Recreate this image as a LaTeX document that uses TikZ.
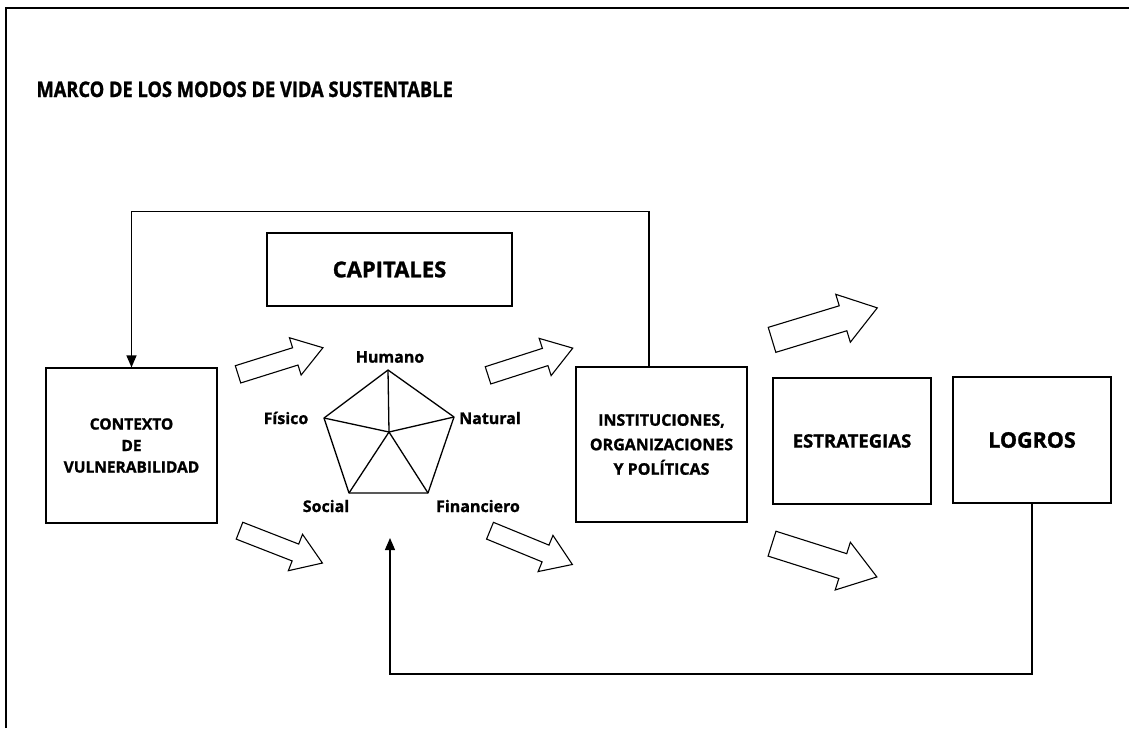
\documentclass[tikz,border=0pt]{standalone}
\usepackage{fontspec}
\setmainfont{Open Sans}[BoldFeatures={FakeBold=1.2}]
\newfontfamily\titulofont{Open Sans}[FakeStretch=0.85, BoldFeatures={FakeBold=1.2}]
\usetikzlibrary{shapes,arrows.meta}

\tikzset{
  caja/.style={draw, line width=1.2pt, align=center, inner sep=0pt, font=\fontsize{15.5}{21.5}\selectfont\bfseries},
  flechagorda/.style={single arrow, draw, line width=1.1pt, inner xsep=0pt, inner ysep=8.5pt, anchor=tail, minimum height=89pt, single arrow head extend=10.5pt, single arrow tip angle=68},
  flechagrande/.style={flechagorda, minimum height=110pt, inner ysep=12.5pt, single arrow head extend=12pt, single arrow tip angle=70},
  retorno/.style={line width=1.2pt, -{Triangle[length=12pt,width=10pt]}},
  capital/.style={font=\fontsize{16}{19}\selectfont\bfseries}
}

\begin{document}
\begin{tikzpicture}[x=1pt, y=-1pt]
                    \useasboundingbox (0,0) rectangle (1129,728);
                    \draw[line width=2.8pt] (6,728) -- (6,8) -- (1129,8);
                    \node[anchor=base west, font=\titulofont\fontsize{21.5}{25}\selectfont\bfseries] (titulo) at (33,97) {MARCO DE LOS MODOS DE VIDA SUSTENTABLE};
                    \node[caja, minimum width=171pt, minimum height=155pt] (contexto) at (131.5,445.5) {CONTEXTO\\DE\\VULNERABILIDAD};
                    \node[caja, minimum width=245pt, minimum height=73pt, font=\fontsize{22}{26}\selectfont\bfseries] (capitales) at (389.5,269.5) {CAPITALES};
                    \node[caja, minimum width=171pt, minimum height=155pt, font=\fontsize{16}{24.5}\selectfont\bfseries] (inst) at (661.5,444.5) {INSTITUCIONES,\\ORGANIZACIONES\\Y POLÍTICAS};
                    \node[caja, minimum width=158pt, minimum height=126pt, font=\fontsize{18.5}{22}\selectfont\bfseries] (estrategias) at (852,441) {ESTRATEGIAS};
                    \node[caja, minimum width=158pt, minimum height=126pt, font=\fontsize{21.5}{25}\selectfont\bfseries] (logros) at (1032,440) {LOGROS};
                    % pentagono de capitales
                    \coordinate (hum) at (388,370);
                    \coordinate (fis) at (324,418);
                    \coordinate (nat) at (454,417);
                    \coordinate (soc) at (349,493);
                    \coordinate (fin) at (428,493);
                    \coordinate (centro) at (389,432);
                    \draw[line width=1.3pt, line join=round] (hum) -- (nat) -- (fin) -- (soc) -- (fis) -- cycle;
                    \foreach \v in {hum,fis,nat,soc,fin}
                        \draw[line width=1.3pt] (centro) -- (\v);
                    \node[capital] (lhum) at (390,357) {Humano};
                    \node[capital] (lfis) at (286,418) {Físico};
                    \node[capital] (lnat) at (490,418) {Natural};
                    \node[capital] (lsoc) at (326,506) {Social};
                    \node[capital] (lfin) at (478,506) {Financiero};
                    % flechas anchas
                    \node[flechagorda, rotate=17.4] (f1) at (237.5,374.5) {};
                    \node[flechagorda, rotate=17.8] (f2) at (487.5,375.5) {};
                    \node[flechagorda, rotate=-21.3] (f3) at (239,530.5) {};
                    \node[flechagorda, rotate=-22.3] (f4) at (489.5,530.5) {};
                    \node[flechagrande, rotate=16.9] (f5) at (771.5,340) {};
                    \node[flechagrande, rotate=-17.6] (f6) at (771.5,543.5) {};
                    % lazos de retorno
                    \draw[retorno] ([xshift=-12.5pt]inst.north) -- ++(0,-155) -| (contexto.north);
                    \coordinate (abajo) at (390,674);
                    \coordinate (capin) at (390,538);
                    \draw[retorno] (logros.south) |- (abajo) -- (capin);
                \end{tikzpicture}
\end{document}
